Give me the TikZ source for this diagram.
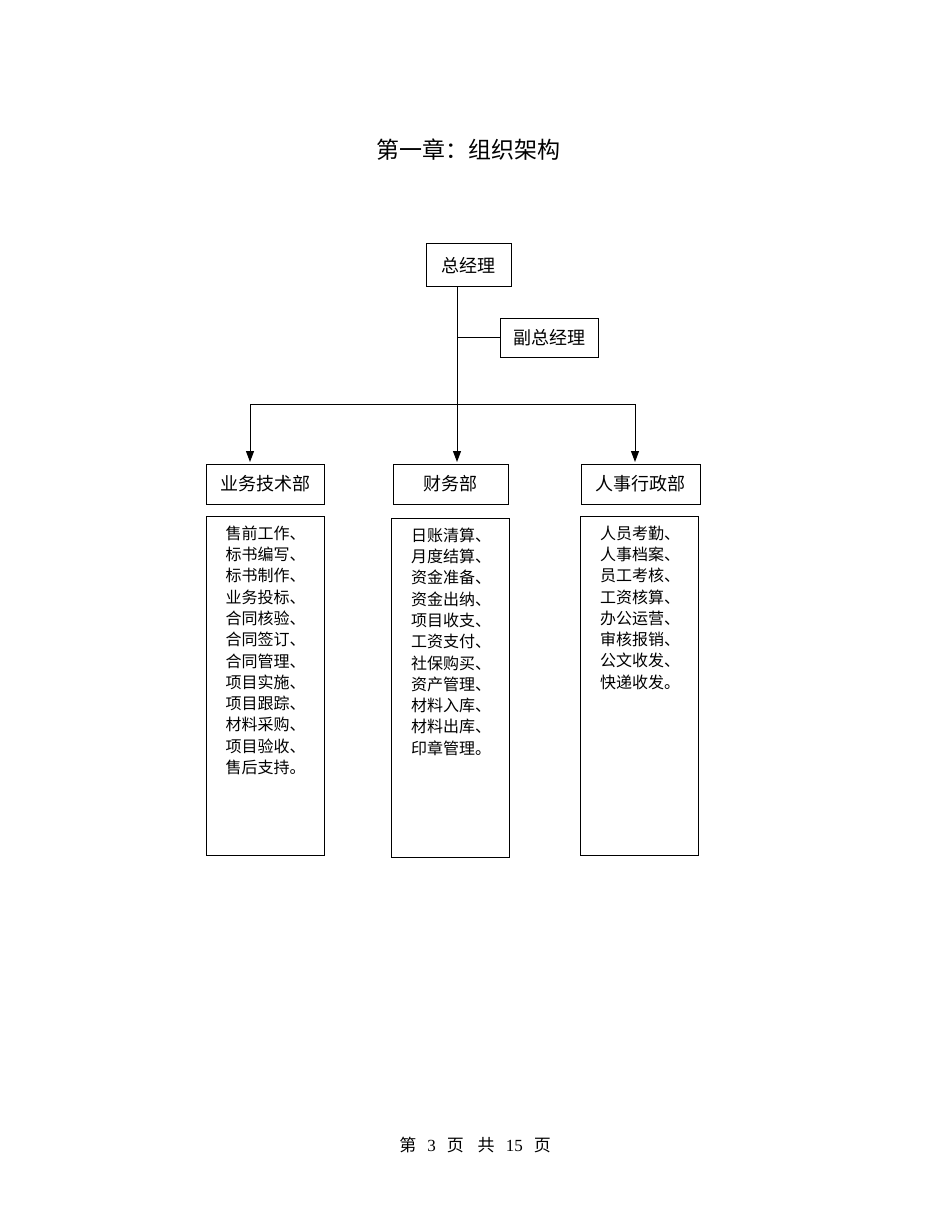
\documentclass[tikz,border=0pt]{standalone}
\usepackage{fontspec}
\setmainfont{Liberation Serif}
\newfontfamily\cjk{Noto Sans CJK SC}
\usetikzlibrary{arrows.meta}
\begin{document}
\begin{tikzpicture}[x=1pt, y=-1pt,
    box/.style = {draw, line width=1pt, inner sep=0pt, font=\cjk\fontsize{18}{20}\selectfont},
    listbox/.style = {draw, line width=1pt, minimum width=118pt, minimum height=339pt},
    listtext/.style = {anchor=north west, align=left, inner sep=0pt, font=\cjk\fontsize{16}{21.3}\selectfont},
    link/.style = {line width=1pt},
    arr/.style = {line width=1pt, -{Triangle[width=8pt, length=11pt]}}]
    \useasboundingbox (0,0) rectangle (950,1230);
    \node[font=\cjk\fontsize{23}{26}\selectfont] (title) at (468,150) {第一章：组织架构};
    \node[box, minimum width=85pt, minimum height=43pt] (gm) at (468.5,265.5) {总经理};
    \node[box, minimum width=98pt, minimum height=39pt] (vgm) at (549,337.5) {副总经理};
    \node[box, minimum width=118pt, minimum height=40pt] (yw) at (265,484) {业务技术部};
    \node[box, minimum width=115pt, minimum height=40pt] (cw) at (450.5,484) {财务部};
    \node[box, minimum width=119pt, minimum height=40pt] (rs) at (640.5,484) {人事行政部};
    \coordinate (top) at (gm.south -| 457,0);
    \coordinate (hub) at (457,404);
    \coordinate (left) at (250,404);
    \coordinate (right) at (635,404);
    \draw[link] (top) -- (hub);
    \draw[link] (vgm.west -| 457,0) -- (vgm.west);
    \draw[link] (left) -- (right);
    \draw[arr] (left) -- (left |- 0,462);
    \draw[arr] (hub) -- (hub |- 0,462);
    \draw[arr] (right) -- (right |- 0,462);
    \node[listbox] (ywlist) at (265,685.5) {};
    \node[listbox] (cwlist) at (450.5,687.5) {};
    \node[listbox] (rslist) at (639.5,685.5) {};
    \node[listtext] (ywtext) at ([xshift=20pt, yshift=-10pt]ywlist.north west) {售前工作、\\标书编写、\\标书制作、\\业务投标、\\合同核验、\\合同签订、\\合同管理、\\项目实施、\\项目跟踪、\\材料采购、\\项目验收、\\售后支持。};
    \node[listtext] (cwtext) at ([xshift=20pt, yshift=-10pt]cwlist.north west) {日账清算、\\月度结算、\\资金准备、\\资金出纳、\\项目收支、\\工资支付、\\社保购买、\\资产管理、\\材料入库、\\材料出库、\\印章管理。};
    \node[listtext] (rstext) at ([xshift=20pt, yshift=-10pt]rslist.north west) {人员考勤、\\人事档案、\\员工考核、\\工资核算、\\办公运营、\\审核报销、\\公文收发、\\快递收发。};
    \node[font=\fontsize{17}{18}\selectfont] (footer) at (475,1145) {{\cjk 第}\hspace{11pt}3\hspace{11pt}{\cjk 页}\hspace{14pt}{\cjk 共}\hspace{11pt}15\hspace{11pt}{\cjk 页}};
\end{tikzpicture}
\end{document}
